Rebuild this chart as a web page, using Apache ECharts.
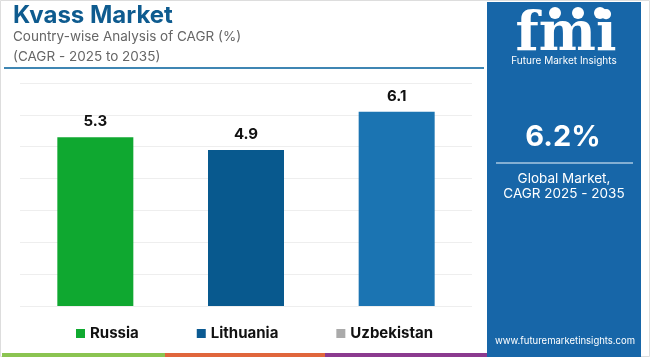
<!DOCTYPE html>
<html><head><meta charset="utf-8">
<script src="https://cdn.jsdelivr.net/npm/echarts@6/dist/echarts.min.js"></script>
<style>html,body{margin:0;padding:0;background:#fff}#c{width:650px;height:357px}</style>
</head><body><div id="c"></div>
<script>
const categories = ['Russia', 'Lithuania', 'Uzbekistan'];
const values = [5.3, 4.9, 6.1];
const barColors = ['#0fa830', '#08598e', '#1b74b2'];
const legendColors = ['#10aa30', '#0b5a92', '#aaaaaa'];
const yTicks = [0, 1, 2, 3, 4, 5, 6, 7];
const headline = '6.2%';

const F = 'Inter, "Open Sans", sans-serif';
const chart = echarts.init(document.getElementById('c'), null, {renderer: 'canvas'});

const series = categories.map((name, i) => ({
  name: name,
  type: 'bar',
  barWidth: 76,
  barGap: '-100%',
  itemStyle: {color: barColors[i]},
  label: {show: true, position: 'top', distance: 8, fontFamily: F, fontWeight: 'bold', fontSize: 15, color: '#111'},
  data: categories.map((c, j) => j === i ? values[i] : '-')
}));

chart.setOption({
  animation: false,
  backgroundColor: '#fff',
  grid: {left: 20, right: 178, top: 83, bottom: 51},
  xAxis: {type: 'category', data: categories, axisLine: {show: false}, axisTick: {show: false}, axisLabel: {show: false}},
  yAxis: {type: 'value', min: yTicks[0], max: yTicks[yTicks.length - 1], interval: 1,
    axisLabel: {show: false}, axisLine: {show: false}, axisTick: {show: false},
    splitLine: {lineStyle: {color: '#eeeeee', width: 1}}},
  legend: {
    left: 71, top: 321, itemWidth: 9, itemHeight: 9, itemGap: 58,
    icon: 'rect',
    textStyle: {fontFamily: F, fontWeight: 'bold', fontSize: 15, color: '#111', padding: [0, 0, 0, 0]},
    data: categories.map((c, i) => ({name: c, itemStyle: {color: legendColors[i]}}))
  },
  series: series,
  graphic: [
    {type: 'rect', shape: {x: 0.5, y: 0.5, width: 649, height: 356}, style: {fill: 'none', stroke: '#dddddd', lineWidth: 1}, silent: true},
    {type: 'text', left: 13, top: 4, style: {text: 'Kvass Market', fontFamily: F, fontWeight: 'bold', fontSize: 24, fill: '#0e5b8f'}},
    {type: 'text', left: 13, top: 30, style: {text: 'Country-wise Analysis of CAGR (%)', fontFamily: F, fontSize: 13.5, fill: '#666'}},
    {type: 'text', left: 13, top: 50, style: {text: '(CAGR - 2025 to 2035)', fontFamily: F, fontSize: 13.5, fill: '#666'}},
    {type: 'line', shape: {x1: 4, y1: 68, x2: 484, y2: 68}, style: {stroke: '#3f86b3', lineWidth: 2}},
    {type: 'rect', shape: {x: 2, y: 353, width: 163, height: 4}, style: {fill: '#8bc451'}},
    {type: 'rect', shape: {x: 165, y: 353, width: 160, height: 4}, style: {fill: '#e0663c'}},
    {type: 'rect', shape: {x: 325, y: 353, width: 162, height: 4}, style: {fill: '#8b3a8f'}},
    {type: 'rect', shape: {x: 487, y: 2, width: 154, height: 355}, style: {fill: '#1766a8'}},
    {type: 'text', x: 566, y: 36, style: {text: 'fmi', fontFamily: '"DejaVu Serif", serif', fontWeight: 'bold', fontSize: 54, fill: '#fff', textAlign: 'center', textVerticalAlign: 'middle'}},
    {type: 'circle', shape: {cx: 555, cy: 13, r: 6}, style: {fill: '#fff'}},
    {type: 'circle', shape: {cx: 578, cy: 13, r: 6}, style: {fill: '#fff'}},
    {type: 'circle', shape: {cx: 600, cy: 13, r: 6}, style: {fill: '#fff'}},
    {type: 'text', x: 564, y: 61, style: {text: 'Future Market Insights', fontFamily: F, fontSize: 10, fill: '#fff', textAlign: 'center', textVerticalAlign: 'middle'}},
    {type: 'text', x: 563, y: 137, style: {text: headline, fontFamily: F, fontWeight: 'bold', fontSize: 29, fill: '#fff', textAlign: 'center', textVerticalAlign: 'middle'}},
    {type: 'line', shape: {x1: 496, y1: 163, x2: 633, y2: 163}, style: {stroke: '#a9c8e2', lineWidth: 1.5}},
    {type: 'text', x: 564, y: 179, style: {text: 'Global Market,', fontFamily: F, fontSize: 13.5, fill: '#fff', textAlign: 'center', textVerticalAlign: 'middle'}},
    {type: 'text', x: 564, y: 194, style: {text: 'CAGR 2025 - 2035', fontFamily: F, fontSize: 13.5, fill: '#fff', textAlign: 'center', textVerticalAlign: 'middle'}},
    {type: 'text', x: 565, y: 341, style: {text: 'www.futuremarketinsights.com', fontFamily: F, fontSize: 9.5, fill: '#fff', textAlign: 'center', textVerticalAlign: 'middle'}}
  ]
});
</script></body></html>
